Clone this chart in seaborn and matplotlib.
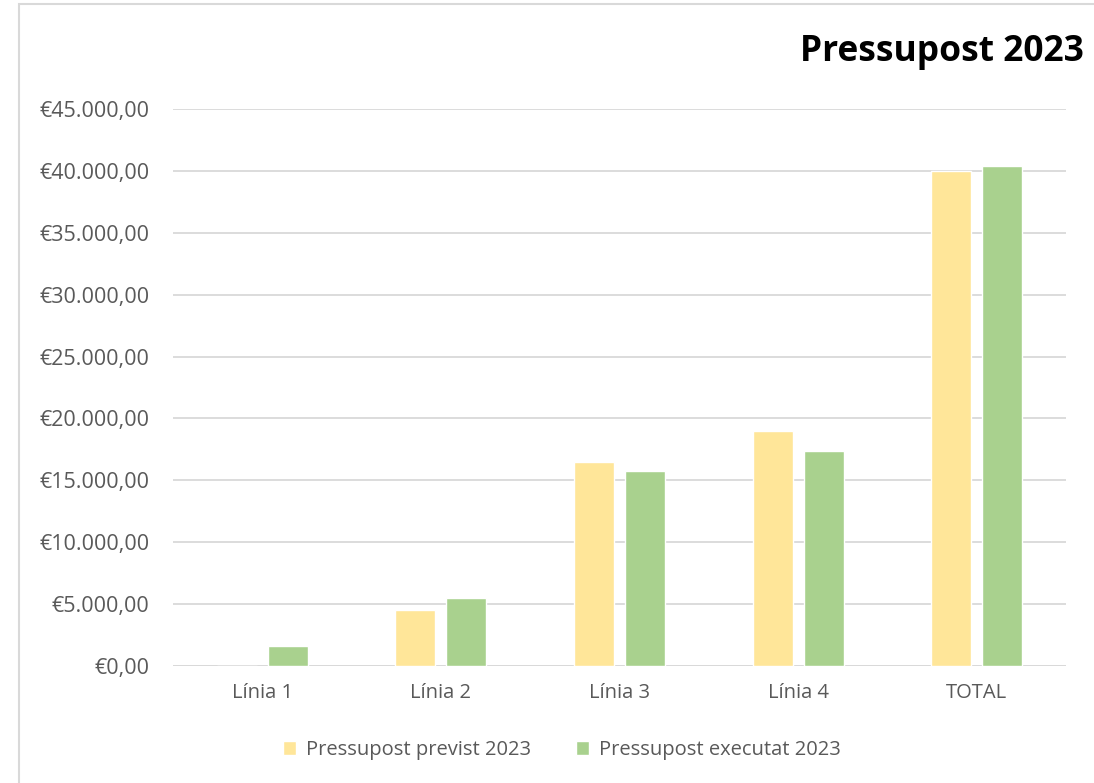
import numpy as np
import pandas as pd
import seaborn as sns
import matplotlib.pyplot as plt
from matplotlib.patches import Rectangle
from matplotlib.ticker import FuncFormatter

categories = ['Línia 1', 'Línia 2', 'Línia 3', 'Línia 4', 'TOTAL']
previst = [0, 4500, 16500, 19000, 40000]
executat = [1600, 5500, 15750, 17400, 40400]
series_names = ['Pressupost previst 2023', 'Pressupost executat 2023']
colors = ['#FFE699', '#A9D18E']


def euro_fmt(v, pos):
    s = f'{v:,.2f}'
    s = s.replace(',', 'X').replace('.', ',').replace('X', '.')
    return '€' + s


df = pd.DataFrame({'cat': categories * 2,
                   'value': previst + executat,
                   'serie': [series_names[0]] * 5 + [series_names[1]] * 5})

sns.set_style('white')
plt.rcParams['font.family'] = ['Open Sans', 'DejaVu Sans']

fig = plt.figure(figsize=(10.94, 7.83), dpi=100)
ax = fig.add_axes([173 / 1094, 1 - 666 / 783, (1066 - 173) / 1094, (666 - 109) / 783])

sns.barplot(data=df, x='cat', y='value', hue='serie', palette=colors, ax=ax,
            width=0.571, gap=0.216, saturation=1, legend=True)

ax.set_ylim(0, 45000)
ax.set_yticks(np.arange(0, 45001, 5000))
ax.yaxis.set_major_formatter(FuncFormatter(euro_fmt))
ax.grid(axis='y', color='#D9D9D9', lw=1.3)
ax.set_axisbelow(True)
for sp in ax.spines.values():
    sp.set_visible(False)
ax.axhline(0, color='#D9D9D9', lw=1.3, zorder=0)
ax.tick_params(axis='both', length=0, labelsize=14.5, colors='#595959')
ax.tick_params(axis='y', pad=17, labelsize=15.5)
ax.tick_params(axis='x', pad=12)
ax.set_xlabel('')
ax.set_ylabel('')

ax.legend(loc='center', bbox_to_anchor=(562 / 1094, 1 - 750 / 783),
          bbox_transform=fig.transFigure, ncol=2, frameon=False,
          fontsize=14.5, labelcolor='#595959', handlelength=0.65, handleheight=0.65,
          columnspacing=2.2, handletextpad=0.5)

fig.text(1084 / 1094, 1 - 52 / 783, 'Pressupost 2023', ha='right', va='center',
         fontsize=25.5, fontweight='bold', color='black')

fig.patches.append(Rectangle((19 / 1094, -0.01), 1.0, 1 - 4 / 783 + 0.01,
                             transform=fig.transFigure, fill=False,
                             edgecolor='#D9D9D9', lw=1.5))

fig.savefig('out.png', dpi=100)
